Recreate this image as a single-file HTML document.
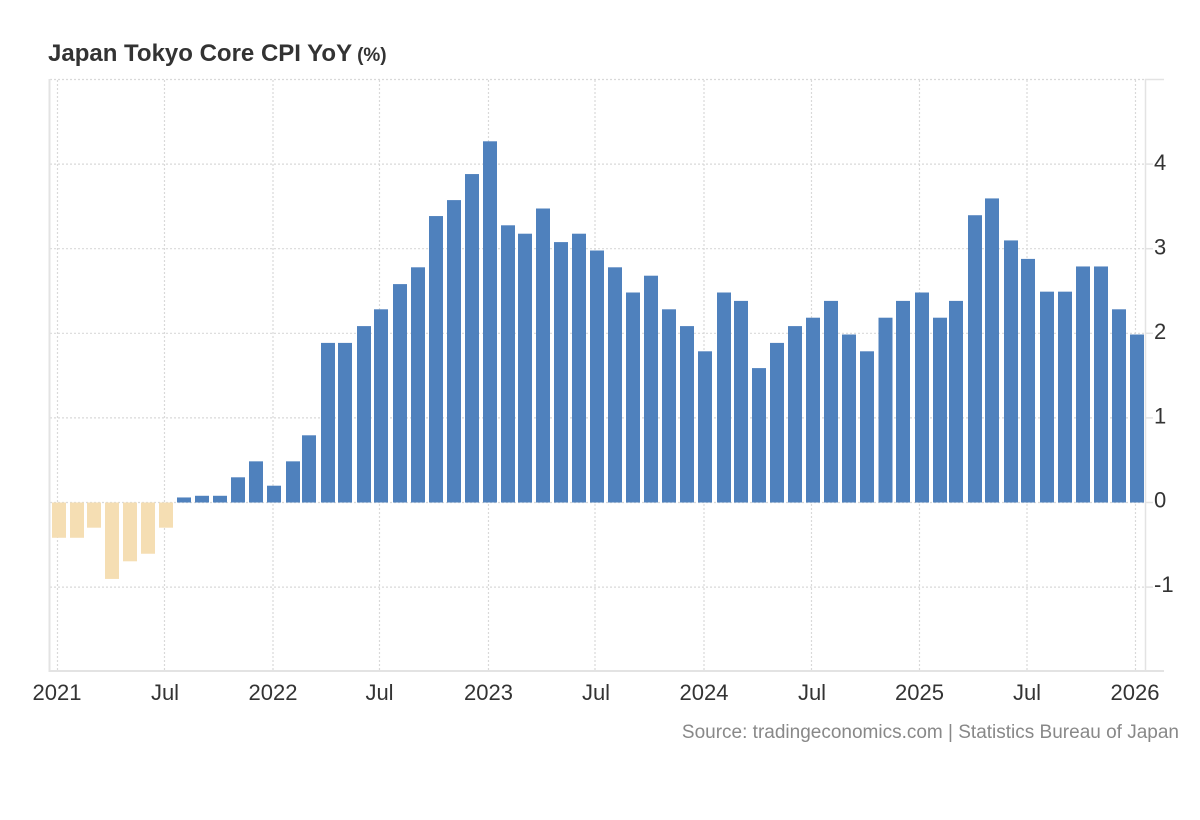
<!DOCTYPE html>
<html>
<head>
<meta charset="utf-8">
<style>
  html,body{margin:0;padding:0;background:#fff;}
  svg{display:block;}
  text{font-family:"Liberation Sans", Arial, sans-serif;}
</style>
</head>
<body>
<svg width="1200" height="820" viewBox="0 0 1200 820" xmlns="http://www.w3.org/2000/svg">
  <rect x="0" y="0" width="1200" height="820" fill="#fff"/>

  <text x="48" y="61" fill="#333" font-weight="bold"><tspan font-size="24">Japan Tokyo Core CPI YoY</tspan><tspan font-size="19" dx="5">(%)</tspan></text>

  <g stroke="#d9d9d9" stroke-width="1.2" stroke-dasharray="2,2" fill="none">
    <line x1="50" y1="79.5" x2="1145" y2="79.5"/>
    <line x1="50" y1="164.1" x2="1145" y2="164.1"/>
    <line x1="50" y1="248.7" x2="1145" y2="248.7"/>
    <line x1="50" y1="333.3" x2="1145" y2="333.3"/>
    <line x1="50" y1="417.9" x2="1145" y2="417.9"/>
    <line x1="50" y1="502.5" x2="1145" y2="502.5"/>
    <line x1="50" y1="587.1" x2="1145" y2="587.1"/>
    <line x1="57.5" y1="80" x2="57.5" y2="671"/>
    <line x1="164.5" y1="80" x2="164.5" y2="671"/>
    <line x1="273" y1="80" x2="273" y2="671"/>
    <line x1="379.5" y1="80" x2="379.5" y2="671"/>
    <line x1="488.5" y1="80" x2="488.5" y2="671"/>
    <line x1="595" y1="80" x2="595" y2="671"/>
    <line x1="704" y1="80" x2="704" y2="671"/>
    <line x1="811.5" y1="80" x2="811.5" y2="671"/>
    <line x1="919.5" y1="80" x2="919.5" y2="671"/>
    <line x1="1027" y1="80" x2="1027" y2="671"/>
    <line x1="1135.5" y1="80" x2="1135.5" y2="671"/>
  </g>

  <g transform="translate(0,502.5) scale(1,-84)">
    <g fill="#f5deb3">
      <rect x="52" y="-0.42" width="14" height="0.42"/>
      <rect x="70" y="-0.42" width="14" height="0.42"/>
      <rect x="87" y="-0.3" width="14" height="0.3"/>
      <rect x="105" y="-0.91" width="14" height="0.91"/>
      <rect x="123" y="-0.7" width="14" height="0.7"/>
      <rect x="141" y="-0.61" width="14" height="0.61"/>
      <rect x="159" y="-0.3" width="14" height="0.3"/>
    </g>
    <g fill="#4f81bd">
      <rect x="177" y="0" width="14" height="0.06"/>
      <rect x="195" y="0" width="14" height="0.08"/>
      <rect x="213" y="0" width="14" height="0.08"/>
      <rect x="231" y="0" width="14" height="0.3"/>
      <rect x="249" y="0" width="14" height="0.49"/>
      <rect x="267" y="0" width="14" height="0.2"/>
      <rect x="286" y="0" width="14" height="0.49"/>
      <rect x="302" y="0" width="14" height="0.8"/>
      <rect x="321" y="0" width="14" height="1.9"/>
      <rect x="338" y="0" width="14" height="1.9"/>
      <rect x="357" y="0" width="14" height="2.1"/>
      <rect x="374" y="0" width="14" height="2.3"/>
      <rect x="393" y="0" width="14" height="2.6"/>
      <rect x="411" y="0" width="14" height="2.8"/>
      <rect x="429" y="0" width="14" height="3.41"/>
      <rect x="447" y="0" width="14" height="3.6"/>
      <rect x="465" y="0" width="14" height="3.91"/>
      <rect x="483" y="0" width="14" height="4.3"/>
      <rect x="501" y="0" width="14" height="3.3"/>
      <rect x="518" y="0" width="14" height="3.2"/>
      <rect x="536" y="0" width="14" height="3.5"/>
      <rect x="554" y="0" width="14" height="3.1"/>
      <rect x="572" y="0" width="14" height="3.2"/>
      <rect x="590" y="0" width="14" height="3.0"/>
      <rect x="608" y="0" width="14" height="2.8"/>
      <rect x="626" y="0" width="14" height="2.5"/>
      <rect x="644" y="0" width="14" height="2.7"/>
      <rect x="662" y="0" width="14" height="2.3"/>
      <rect x="680" y="0" width="14" height="2.1"/>
      <rect x="698" y="0" width="14" height="1.8"/>
      <rect x="717" y="0" width="14" height="2.5"/>
      <rect x="734" y="0" width="14" height="2.4"/>
      <rect x="752" y="0" width="14" height="1.6"/>
      <rect x="770" y="0" width="14" height="1.9"/>
      <rect x="788" y="0" width="14" height="2.1"/>
      <rect x="806" y="0" width="14" height="2.2"/>
      <rect x="824" y="0" width="14" height="2.4"/>
      <rect x="842" y="0" width="14" height="2.0"/>
      <rect x="860" y="0" width="14" height="1.8"/>
      <rect x="878.5" y="0" width="14" height="2.2"/>
      <rect x="896" y="0" width="14" height="2.4"/>
      <rect x="915" y="0" width="14" height="2.5"/>
      <rect x="933" y="0" width="14" height="2.2"/>
      <rect x="949" y="0" width="14" height="2.4"/>
      <rect x="968" y="0" width="14" height="3.42"/>
      <rect x="985" y="0" width="14" height="3.62"/>
      <rect x="1004" y="0" width="14" height="3.12"/>
      <rect x="1021" y="0" width="14" height="2.9"/>
      <rect x="1040" y="0" width="14" height="2.51"/>
      <rect x="1058" y="0" width="14" height="2.51"/>
      <rect x="1076" y="0" width="14" height="2.81"/>
      <rect x="1094" y="0" width="14" height="2.81"/>
      <rect x="1112" y="0" width="14" height="2.3"/>
      <rect x="1130" y="0" width="14" height="2.0"/>
    </g>
  </g>

  <g stroke="#e3e3e3" fill="none">
    <line x1="49.5" y1="79" x2="49.5" y2="672" stroke-width="2"/>
    <line x1="49" y1="671" x2="1164" y2="671" stroke-width="2"/>
    <line x1="1145.5" y1="79" x2="1145.5" y2="672" stroke-width="1.5"/>
    <line x1="1145" y1="79.5" x2="1164" y2="79.5" stroke-width="1.5"/>
    <line x1="1145" y1="164.1" x2="1153" y2="164.1" stroke-width="1.5"/>
    <line x1="1145" y1="248.7" x2="1153" y2="248.7" stroke-width="1.5"/>
    <line x1="1145" y1="333.3" x2="1153" y2="333.3" stroke-width="1.5"/>
    <line x1="1145" y1="417.9" x2="1153" y2="417.9" stroke-width="1.5"/>
    <line x1="1145" y1="502.5" x2="1153" y2="502.5" stroke-width="1.5"/>
    <line x1="1145" y1="587.1" x2="1153" y2="587.1" stroke-width="1.5"/>
  </g>

  <g fill="#333" font-size="22">
    <text x="1154" y="170">4</text>
    <text x="1154" y="254.5">3</text>
    <text x="1154" y="339">2</text>
    <text x="1154" y="423.5">1</text>
    <text x="1154" y="507.5">0</text>
    <text x="1154" y="592">-1</text>
  </g>

  <g fill="#333" font-size="22" text-anchor="middle">
    <text x="57" y="700">2021</text>
    <text x="165" y="700">Jul</text>
    <text x="273" y="700">2022</text>
    <text x="379.5" y="700">Jul</text>
    <text x="488.5" y="700">2023</text>
    <text x="596" y="700">Jul</text>
    <text x="704" y="700">2024</text>
    <text x="812" y="700">Jul</text>
    <text x="919.5" y="700">2025</text>
    <text x="1027" y="700">Jul</text>
    <text x="1135" y="700">2026</text>
  </g>

  <text x="1179" y="738" fill="#888" font-size="19" text-anchor="end">Source: tradingeconomics.com | Statistics Bureau of Japan</text>
</svg>
</body>
</html>
